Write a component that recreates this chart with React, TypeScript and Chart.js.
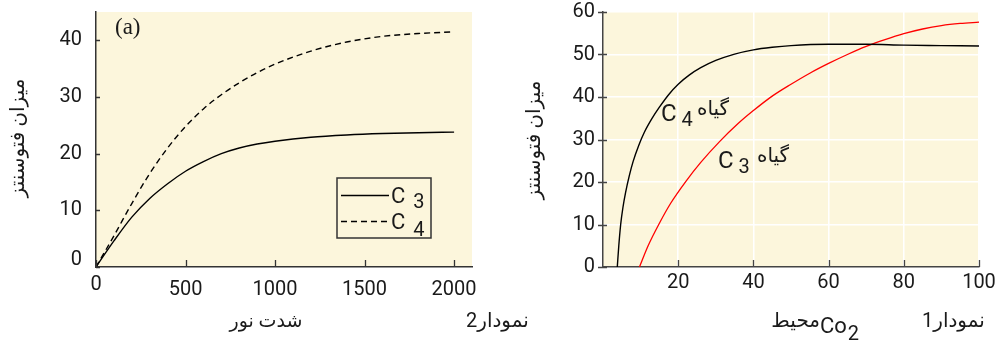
import React, { useEffect, useRef } from 'react';
import { Chart, registerables } from 'chart.js';
Chart.register(...registerables);

// ---------- data: chart (a) / نمودار2 ----------
const lightX = [0, 100, 200, 300, 400, 500, 600, 700, 800, 900, 1000, 1200, 1400, 1600, 1800, 2000];
const lightC3 = [0, 4.6, 8.8, 12.1, 14.7, 16.9, 18.6, 20.0, 21.0, 21.7, 22.2, 22.9, 23.3, 23.55, 23.7, 23.8];
const lightC4 = [0, 5.5, 11.2, 16.5, 21.0, 24.8, 27.9, 30.4, 32.5, 34.3, 35.8, 38.1, 39.7, 40.7, 41.2, 41.5];
const leftXTicks = [0, 500, 1000, 1500, 2000];
const leftYTicks = [0, 10, 20, 30, 40];
const leftSeriesNames = [['C', '3'], ['C', '4']];

// ---------- data: نمودار1 ----------
const co2C4X = [3.8, 4.2, 4.7, 5.3, 6, 7, 8, 9.5, 11, 13, 15, 17.5, 20, 23, 26, 30, 35, 40, 45, 50, 60, 70, 80, 90, 100];
const co2C4 = [0, 5, 10, 14, 17.5, 21.5, 24.8, 28.6, 31.7, 34.9, 37.6, 40.6, 43.0, 45.2, 46.9, 48.6, 50.1, 51.1, 51.7, 52.1, 52.4, 52.4, 52.2, 52.1, 52.0];
const co2C3X = [9.7, 12, 15, 18, 22, 26, 31, 36, 40, 45, 50, 55, 60, 65, 70, 75, 80, 85, 90, 95, 100];
const co2C3 = [0, 5, 10.3, 15.0, 20.1, 24.6, 29.5, 33.8, 36.8, 40.2, 43.0, 45.6, 47.9, 50.0, 51.9, 53.5, 54.9, 56.0, 56.8, 57.3, 57.6];
const rightXTicks = [20, 40, 60, 80, 100];
const rightYTicks = [0, 10, 20, 30, 40, 50, 60];

const yTitle = 'میزان فتوسنتز';
const leftXTitle = 'شدت نور';
const leftCaption = 'نمودار2';
const rightXTitleFa = 'محیط';
const rightCaption = 'نمودار1';
const plantWord = 'گیاه';

const CREAM = '#fcf6dc';
const FONT = 'Roboto, "DejaVu Sans", sans-serif';
const TEXT = '#1a1a1a';

const pts = (xs: number[], ys: number[]) => xs.map((x, i) => ({ x, y: ys[i] }));

function bgPlugin(color: string) {
  return {
    id: 'bg',
    beforeDraw(chart: any) {
      const { ctx, chartArea: a } = chart;
      ctx.save();
      ctx.fillStyle = color;
      ctx.fillRect(a.left, a.top, a.right - a.left, a.bottom - a.top);
      ctx.restore();
    },
  };
}

function tickPlugin(cfg: { xIn: number; yIn: number; yOut: number; color: string }) {
  return {
    id: 'tickmarks',
    afterDatasetsDraw(chart: any) {
      const { ctx } = chart;
      const xs = chart.scales.x;
      const ys = chart.scales.y;
      ctx.save();
      ctx.strokeStyle = cfg.color;
      ctx.lineWidth = 1.3;
      ctx.beginPath();
      xs.ticks.forEach((t: any) => {
        const px = Math.round(xs.getPixelForValue(t.value)) + 0.5;
        ctx.moveTo(px, xs.top);
        ctx.lineTo(px, xs.top - cfg.xIn);
      });
      ys.ticks.forEach((t: any) => {
        const py = Math.round(ys.getPixelForValue(t.value)) + 0.5;
        ctx.moveTo(ys.right - cfg.yOut, py);
        ctx.lineTo(ys.right + cfg.yIn, py);
      });
      ctx.stroke();
      ctx.restore();
    },
  };
}

function drawSub(ctx: CanvasRenderingContext2D, main: string, sub: string, x: number, y: number, mainSize: number, subSize: number, gap: number, drop: number) {
  ctx.textAlign = 'left';
  ctx.textBaseline = 'alphabetic';
  ctx.font = `${mainSize}px ${FONT}`;
  ctx.fillText(main, x, y);
  const w = ctx.measureText(main).width;
  ctx.font = `${subSize}px ${FONT}`;
  ctx.fillText(sub, x + w + gap, y + drop);
}

const leftText = {
  id: 'leftText',
  afterDraw(chart: any) {
    const { ctx } = chart;
    const xs = chart.scales.x;
    const ys = chart.scales.y;
    ctx.save();
    ctx.fillStyle = TEXT;
    // zero labels (offset as in the original)
    ctx.font = `20px ${FONT}`;
    ctx.textBaseline = 'alphabetic';
    ctx.textAlign = 'center';
    ctx.fillText('0', xs.getPixelForValue(0), 290);
    ctx.textAlign = 'right';
    ctx.fillText('0', ys.right - 14, ys.getPixelForValue(0) - 2);
    // (a)
    ctx.font = '23px "Liberation Serif", "Times New Roman", serif';
    ctx.textAlign = 'left';
    ctx.fillText('(a)', 115, 34);
    // legend box
    ctx.strokeStyle = '#333';
    ctx.lineWidth = 1.5;
    ctx.strokeRect(337, 178, 94, 60);
    ctx.strokeStyle = '#000';
    ctx.lineWidth = 1.3;
    ctx.beginPath();
    ctx.moveTo(341, 195.5);
    ctx.lineTo(389, 195.5);
    ctx.stroke();
    ctx.setLineDash([6, 4]);
    ctx.beginPath();
    ctx.moveTo(341, 221.5);
    ctx.lineTo(389, 221.5);
    ctx.stroke();
    ctx.setLineDash([]);
    drawSub(ctx, leftSeriesNames[0][0], leftSeriesNames[0][1], 391, 203, 22, 20, 8, 5);
    drawSub(ctx, leftSeriesNames[1][0], leftSeriesNames[1][1], 391, 229, 22, 20, 8, 7);
    // axis titles
    ctx.font = `19px ${FONT}`;
    ctx.textAlign = 'center';
    ctx.textBaseline = 'middle';
    ctx.fillText(leftXTitle, 266, 322);
    ctx.textAlign = 'left';
    ctx.font = `20px ${FONT}`;
    ctx.fillText(leftCaption, 466, 322);
    ctx.translate(19, 138);
    ctx.rotate(-Math.PI / 2);
    ctx.textAlign = 'center';
    ctx.font = `20px ${FONT}`;
    ctx.fillText(yTitle, 0, 0);
    ctx.restore();
  },
};

const rightText = {
  id: 'rightText',
  afterDraw(chart: any) {
    const { ctx } = chart;
    ctx.save();
    ctx.fillStyle = TEXT;
    // curve labels
    drawSub(ctx, 'C', '4', 161, 121, 24, 20, 5, 5);
    drawSub(ctx, 'C', '3', 218, 168, 24, 20, 5, 5);
    ctx.font = `20px ${FONT}`;
    ctx.textAlign = 'left';
    ctx.textBaseline = 'middle';
    ctx.fillText(plantWord, 197, 110);
    ctx.fillText(plantWord, 257, 157);
    // x title
    ctx.textAlign = 'right';
    ctx.fillText(rightXTitleFa, 320, 322);
    drawSub(ctx, 'Co', '2', 320, 333, 22, 20, 1, 7);
    ctx.font = `20px ${FONT}`;
    ctx.textAlign = 'left';
    ctx.textBaseline = 'middle';
    ctx.fillText(rightCaption, 422, 322);
    // y title
    ctx.translate(35, 140);
    ctx.rotate(-Math.PI / 2);
    ctx.textAlign = 'center';
    ctx.font = `20px ${FONT}`;
    ctx.fillText(yTitle, 0, 0);
    ctx.restore();
  },
};

function setTicks(values: number[]) {
  return (s: any) => {
    s.ticks = values.map((v) => ({ value: v }));
  };
}

function leftConfig(): any {
  return {
    type: 'line',
    data: {
      datasets: [
        { data: pts(lightX, lightC3), borderColor: '#000', borderWidth: 1.4, pointRadius: 0, cubicInterpolationMode: 'monotone', fill: false },
        { data: pts(lightX, lightC4), borderColor: '#000', borderWidth: 1.4, borderDash: [6, 4], pointRadius: 0, cubicInterpolationMode: 'monotone', fill: false },
      ],
    },
    options: {
      responsive: false,
      animation: false,
      devicePixelRatio: 1,
      events: [],
      layout: { padding: { left: 0, top: 12, right: 88, bottom: 0 } },
      plugins: { legend: { display: false }, tooltip: { enabled: false } },
      scales: {
        x: {
          type: 'linear',
          min: 0,
          max: 2100,
          afterBuildTicks: setTicks(leftXTicks),
          afterFit: (s: any) => { s.height = 74; s.paddingLeft = 0; s.paddingRight = 0; },
          grid: { display: true, drawOnChartArea: false, drawTicks: false },
          border: { display: true, color: '#333', width: 1.5 },
          ticks: { padding: 11, autoSkip: false, maxRotation: 0, color: TEXT, font: { family: FONT, size: 20 }, callback: (v: number) => (v === 0 ? '' : String(v)) },
        },
        y: {
          type: 'linear',
          min: 0,
          max: 45,
          afterBuildTicks: setTicks(leftYTicks),
          afterFit: (s: any) => { s.width = 96; s.paddingTop = 0; s.paddingBottom = 0; },
          grid: { display: true, drawOnChartArea: false, drawTicks: false },
          border: { display: true, color: '#333', width: 1.5 },
          ticks: { padding: 14, autoSkip: false, color: TEXT, font: { family: FONT, size: 20 }, callback: (v: number) => (v === 0 ? '' : String(v)) },
        },
      },
    },
    plugins: [bgPlugin(CREAM), tickPlugin({ xIn: 7, yIn: 4, yOut: 0, color: '#333' }), leftText],
  };
}

function rightConfig(): any {
  const gridColor = (c: any) => (c.tick && c.tick.value === 0 ? 'rgba(0,0,0,0)' : '#ffffff');
  return {
    type: 'line',
    data: {
      datasets: [
        { data: pts(co2C4X, co2C4), borderColor: '#000', borderWidth: 1.4, pointRadius: 0, cubicInterpolationMode: 'monotone', fill: false },
        { data: pts(co2C3X, co2C3), borderColor: '#ff0000', borderWidth: 1.3, pointRadius: 0, cubicInterpolationMode: 'monotone', fill: false },
      ],
    },
    options: {
      responsive: false,
      animation: false,
      devicePixelRatio: 1,
      events: [],
      layout: { padding: { left: 0, top: 12, right: 27, bottom: 0 } },
      plugins: { legend: { display: false }, tooltip: { enabled: false } },
      scales: {
        x: {
          type: 'linear',
          min: 0,
          max: 100,
          afterBuildTicks: setTicks(rightXTicks),
          afterFit: (s: any) => { s.height = 74; s.paddingLeft = 0; s.paddingRight = 0; },
          grid: { display: true, drawOnChartArea: true, drawTicks: false, color: gridColor, lineWidth: 1.5 },
          border: { display: true, color: '#444', width: 1.5 },
          ticks: { padding: 4, autoSkip: false, maxRotation: 0, color: TEXT, font: { family: FONT, size: 20 } },
        },
        y: {
          type: 'linear',
          min: 0,
          max: 60,
          afterBuildTicks: setTicks(rightYTicks),
          afterFit: (s: any) => { s.width = 103; s.paddingTop = 0; s.paddingBottom = 0; },
          grid: { display: true, drawOnChartArea: true, drawTicks: false, color: gridColor, lineWidth: 1.5 },
          border: { display: true, color: '#444', width: 1.5 },
          ticks: { padding: 8, autoSkip: false, color: TEXT, font: { family: FONT, size: 20 } },
        },
      },
    },
    plugins: [bgPlugin(CREAM), tickPlugin({ xIn: 7, yIn: 4, yOut: 5, color: '#444' }), rightText],
  };
}

export default function App() {
  const leftRef = useRef<HTMLCanvasElement>(null);
  const rightRef = useRef<HTMLCanvasElement>(null);
  useEffect(() => {
    const c1 = new Chart(leftRef.current as HTMLCanvasElement, leftConfig());
    const c2 = new Chart(rightRef.current as HTMLCanvasElement, rightConfig());
    return () => {
      c1.destroy();
      c2.destroy();
    };
  }, []);
  return (
    <div style={{ position: 'absolute', left: 0, top: 0, width: 1006, height: 341, background: '#ffffff', overflow: 'hidden' }}>
      <canvas ref={leftRef} width={560} height={341} style={{ position: 'absolute', left: 0, top: 0, width: 560, height: 341 }} />
      <canvas ref={rightRef} width={506} height={341} style={{ position: 'absolute', left: 500, top: 0, width: 506, height: 341 }} />
    </div>
  );
}
